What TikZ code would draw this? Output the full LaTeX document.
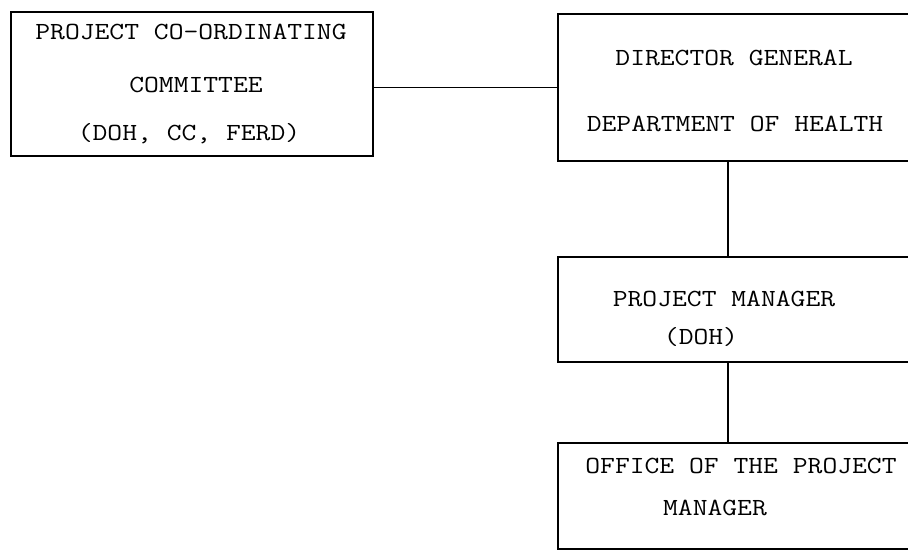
\documentclass[tikz,border=0pt]{standalone}
\usetikzlibrary{positioning}

\begin{document}
\begin{tikzpicture}[
    x=0.02cm, y=-0.02cm,
    % Boxes
    unitbox/.style={rectangle, draw=black, line width=1.1pt, inner sep=0pt, outer sep=0pt, anchor=north west},
    % Lines of text
    boxtext/.style={font=\ttfamily\fontsize{14}{16}\selectfont, inner sep=0pt, anchor=base, xscale=1.17, transform shape},
    % Connectors
    link/.style={draw=black, line width=0.8pt}
]
\useasboundingbox (0,0) rectangle (908,551);
\clip (0,0) rectangle (908,551);

% Committee - left
\node[unitbox, minimum width=7.24cm, minimum height=2.88cm] (pcc) at (11,12) {};
\node[boxtext] (pcc1) at (191,39) {PROJECT CO-ORDINATING};
\node[boxtext] (pcc2) at (196,92) {COMMITTEE};
\node[boxtext] (pcc3) at (189,140) {(DOH, CC, FERD)};

% Chain of command - right
\node[unitbox, minimum width=7.44cm, minimum height=2.94cm] (dg) at (558,14) {};
\node[boxtext] (dg1) at (734,65) {DIRECTOR GENERAL};
\node[boxtext] (dg2) at (735,131) {DEPARTMENT OF HEALTH};

\node[unitbox, minimum width=7.44cm, minimum height=2.10cm] (pm) at (558,257) {};
\node[boxtext] (pm1) at (724,306) {PROJECT MANAGER};
\node[boxtext] (pm2) at (701,344) {(DOH)};

\node[unitbox, minimum width=7.44cm, minimum height=2.12cm] (opm) at (558,443) {};
\node[boxtext] (opm1) at (741,473) {OFFICE OF THE PROJECT};
\node[boxtext] (opm2) at (715,515) {MANAGER};

% Connections
\coordinate (spine) at (728,0);
\draw[link] (pcc.east |- dg.west) -- (dg.west);
\draw[link] (dg.south -| spine) -- (pm.north -| spine);
\draw[link] (pm.south -| spine) -- (opm.north -| spine);
\end{tikzpicture}
\end{document}
